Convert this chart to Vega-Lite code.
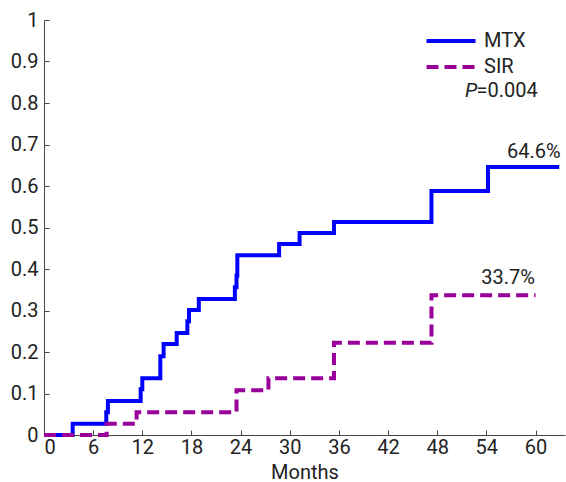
{
  "$schema": "https://vega.github.io/schema/vega-lite/v6.json",
  "width": 521,
  "height": 415,
  "autosize": {"type": "none"},
  "padding": {"left": 44, "top": 20, "right": 1, "bottom": 47},
  "background": "white",
  "config": {
    "view": {"stroke": null},
    "font": "Roboto",
    "axis": {
      "domainColor": "#444",
      "domainWidth": 1,
      "tickColor": "#444",
      "tickWidth": 1,
      "tickSize": -5,
      "labelFont": "Roboto",
      "labelFontSize": 20,
      "labelColor": "#222",
      "titleFont": "Roboto",
      "titleFontSize": 20,
      "titleFontWeight": "normal",
      "titleColor": "#222",
      "grid": false
    },
    "legend": {
      "orient": "none",
      "legendX": 395,
      "legendY": 9,
      "padding": 0,
      "symbolType": "M-2.45,0H2.45",
      "symbolSize": 400,
      "symbolStrokeWidth": 4,
      "labelFont": "Roboto",
      "labelFontSize": 20,
      "labelColor": "#222",
      "labelOffset": 21,
      "rowPadding": 4,
      "title": null
    }
  },
  "datasets": {
    "curves": [
      {"group": "MTX", "month": 0, "value": 0},
      {"group": "MTX", "month": 3.5, "value": 0.027},
      {"group": "MTX", "month": 7.6, "value": 0.055},
      {"group": "MTX", "month": 7.8, "value": 0.082},
      {"group": "MTX", "month": 11.8, "value": 0.11},
      {"group": "MTX", "month": 12.0, "value": 0.137},
      {"group": "MTX", "month": 14.2, "value": 0.19},
      {"group": "MTX", "month": 14.6, "value": 0.219},
      {"group": "MTX", "month": 16.2, "value": 0.246},
      {"group": "MTX", "month": 17.5, "value": 0.274},
      {"group": "MTX", "month": 17.7, "value": 0.301},
      {"group": "MTX", "month": 18.9, "value": 0.328},
      {"group": "MTX", "month": 23.3, "value": 0.356},
      {"group": "MTX", "month": 23.5, "value": 0.384},
      {"group": "MTX", "month": 23.6, "value": 0.433},
      {"group": "MTX", "month": 28.7, "value": 0.46},
      {"group": "MTX", "month": 31.2, "value": 0.487},
      {"group": "MTX", "month": 35.4, "value": 0.513},
      {"group": "MTX", "month": 47.3, "value": 0.588},
      {"group": "MTX", "month": 54.2, "value": 0.646},
      {"group": "MTX", "month": 62.9, "value": 0.646},
      {"group": "SIR", "month": 0, "value": 0},
      {"group": "SIR", "month": 7.65, "value": 0.027},
      {"group": "SIR", "month": 11.3, "value": 0.055},
      {"group": "SIR", "month": 23.5, "value": 0.108},
      {"group": "SIR", "month": 27.4, "value": 0.137},
      {"group": "SIR", "month": 35.4, "value": 0.222},
      {"group": "SIR", "month": 47.3, "value": 0.337},
      {"group": "SIR", "month": 60.0, "value": 0.337}
    ],
    "endLabels": [
      {"month": 59.8, "value": 0.682, "label": "64.6%"},
      {"month": 56.65, "value": 0.378, "label": "33.7%"}
    ],
    "pItalic": [
      {"month": 51.4, "value": 0.829, "label": "P"}
    ],
    "pRest": [
      {"month": 52.8, "value": 0.829, "label": "=0.004"}
    ]
  },
  "layer": [
    {
      "data": {"name": "curves"},
      "mark": {"type": "line", "interpolate": "step-after", "strokeWidth": 4, "strokeCap": "butt"},
      "encoding": {
        "x": {
          "field": "month", "type": "quantitative",
          "scale": {"domain": [0, 63.6], "nice": false, "zero": false},
          "axis": {"title": "Months", "values": [0, 6, 12, 18, 24, 30, 36, 42, 48, 54, 60], "labelPadding": 7, "titlePadding": 5}
        },
        "y": {
          "field": "value", "type": "quantitative",
          "scale": {"domain": [0, 1], "nice": false},
          "axis": {"title": null, "values": [0, 0.1, 0.2, 0.3, 0.4, 0.5, 0.6, 0.7, 0.8, 0.9, 1], "format": "~g", "labelPadding": 11}
        },
        "color": {
          "field": "group", "type": "nominal",
          "scale": {"domain": ["MTX", "SIR"], "range": ["#0000FF", "#990099"]},
          "legend": {"title": null}
        },
        "strokeDash": {
          "field": "group", "type": "nominal",
          "scale": {"domain": ["MTX", "SIR"], "range": [[1, 0], [12, 6]]},
          "legend": {"title": null}
        }
      }
    },
    {
      "data": {"name": "endLabels"},
      "mark": {"type": "text", "fontSize": 20, "color": "#222", "align": "center", "baseline": "middle", "font": "Roboto"},
      "encoding": {
        "x": {"field": "month", "type": "quantitative"},
        "y": {"field": "value", "type": "quantitative"},
        "text": {"field": "label"}
      }
    },
    {
      "data": {"name": "pItalic"},
      "mark": {"type": "text", "fontSize": 20, "color": "#222", "align": "left", "baseline": "middle", "fontStyle": "italic", "font": "Roboto"},
      "encoding": {
        "x": {"field": "month", "type": "quantitative"},
        "y": {"field": "value", "type": "quantitative"},
        "text": {"field": "label"}
      }
    },
    {
      "data": {"name": "pRest"},
      "mark": {"type": "text", "fontSize": 20, "color": "#222", "align": "left", "baseline": "middle", "font": "Roboto"},
      "encoding": {
        "x": {"field": "month", "type": "quantitative"},
        "y": {"field": "value", "type": "quantitative"},
        "text": {"field": "label"}
      }
    }
  ]
}
